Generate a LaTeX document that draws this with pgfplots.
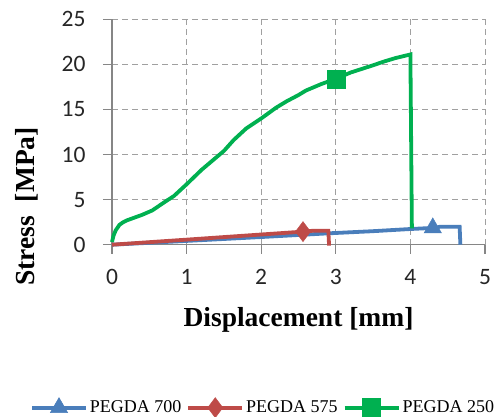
\documentclass[border=0pt]{standalone}
\usepackage{fontspec}
\setmainfont{Liberation Serif}
\newfontfamily\tickfont{Carlito}
\usepackage{pgfplots}
\pgfplotsset{compat=1.18}

\definecolor{c700}{RGB}{74,126,187}
\definecolor{c575}{RGB}{190,75,72}
\definecolor{c250}{RGB}{0,176,80}
\definecolor{gridgray}{RGB}{160,160,160}
\definecolor{axgray}{RGB}{134,134,134}

\begin{document}
\begin{tikzpicture}[x=1pt,y=1pt]
  \path[use as bounding box] (0,0) rectangle (500,417);
  \begin{axis}[
    at={(112pt,172.3pt)}, anchor=south west,
    scale only axis,
    width=373pt, height=225.4pt,
    xmin=0, xmax=5, ymin=0, ymax=25,
    xtick={0,...,5}, ytick={0,5,...,25},
    axis x line*=bottom, axis y line*=left,
    axis line style={draw=axgray, line width=1.2pt, -},
    tick align=outside, major tick length=9pt,
    tick style={draw=axgray, line width=1.2pt},
    grid=major,
    major grid style={draw=gridgray, dashed, line width=0.9pt, dash pattern=on 6pt off 4pt},
    /pgf/number format/assume math mode=true,
    ticklabel style={font=\tickfont\fontsize{23.5}{23.5}\selectfont, text=black!85},
    xticklabel style={yshift=-12pt},
    yticklabel style={xshift=-14pt},
    xlabel={\bfseries Displacement [mm]},
    ylabel={\bfseries Stress\ \ [MPa]},
    label style={font=\fontsize{27.5}{28}\selectfont},
    xlabel style={yshift=-16pt},
    ylabel style={at={(rel axis cs:0,0.17)}, anchor=center, yshift=85pt},
    clip=false,
    legend columns=3,
    legend style={at={(0.405,-0.723)}, anchor=center, draw=none,
      font=\fontsize{18}{18}\selectfont,
      /tikz/every even column/.append style={column sep=3pt}},
    legend image code/.code={
      \draw[#1, mark indices={2}] plot coordinates {(0pt,0pt) (27pt,0pt) (54pt,0pt)};
    },
  ]
    \addplot[c700, line width=3.8pt, mark=triangle*, mark size=10pt,
      mark indices={8}, mark options={solid, line width=0.5pt}] coordinates {
      (0,0) (1,0.42) (2,0.85) (2.9,1.26) (3.5,1.5) (4.0,1.74) (4.2,1.82)
      (4.3,1.86) (4.35,1.9) (4.4,2.0) (4.66,2.0) (4.67,0)
    };
    \addlegendentry{PEGDA 700}
    \addplot[c575, line width=3.8pt, mark=diamond*, mark size=10pt,
      mark indices={4}, mark options={solid, line width=0.5pt}] coordinates {
      (0,0) (1,0.56) (2,1.13) (2.56,1.45) (2.7,1.55) (2.9,1.55) (2.91,-0.1)
    };
    \addlegendentry{PEGDA 575}
    \addplot[c250, line width=3.8pt, mark=square*, mark size=9pt,
      mark indices={24}, mark options={solid, line width=0.5pt}] coordinates {
      (0,0.3) (0.02,1.0) (0.05,1.6) (0.1,2.2) (0.15,2.5) (0.2,2.7) (0.3,3.0)
      (0.4,3.3) (0.54,3.8) (0.7,4.7) (0.83,5.4) (1.0,6.7) (1.2,8.3)
      (1.5,10.4) (1.63,11.6) (1.8,12.9) (2.0,14.0) (2.2,15.2) (2.34,15.9)
      (2.5,16.6) (2.6,17.1) (2.8,17.8) (3.0,18.4) (3.0,18.4) (3.0,18.4)
      (3.2,19.1) (3.5,19.9) (3.64,20.3) (3.8,20.7) (4.0,21.1) (4.02,1.8)
    };
    \addlegendentry{PEGDA 250}
  \end{axis}
\end{tikzpicture}
\end{document}
